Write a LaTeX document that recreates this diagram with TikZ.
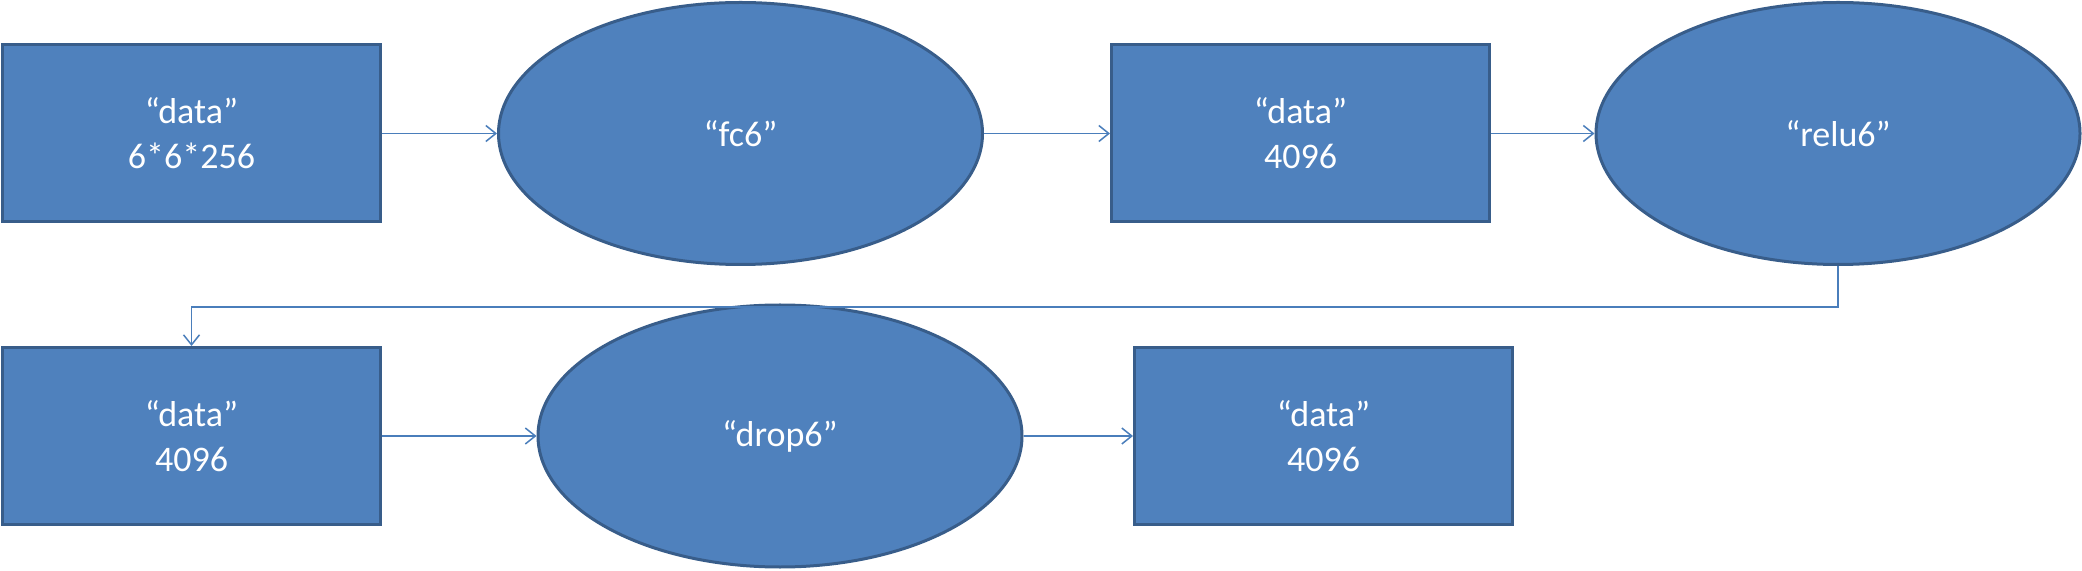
\documentclass[tikz,border=0pt]{standalone}
\usepackage{fontspec}
\setmainfont{Carlito}
\usetikzlibrary{shapes.geometric,arrows.meta}
\definecolor{fillblue}{HTML}{4F81BD}
\definecolor{edgeblue}{HTML}{385D8A}
\definecolor{linkblue}{HTML}{4A7EBB}
\begin{document}
\begin{tikzpicture}[x=0.5pt,y=-0.5pt,
  labelfont/.style={text=white,font=\fontsize{18}{22.5}\selectfont,align=center},
  box/.style={draw=edgeblue,fill=fillblue,line width=1.5pt,minimum width=189pt,minimum height=88.5pt,inner sep=0pt,labelfont},
  oval/.style={ellipse,draw=edgeblue,fill=fillblue,line width=1.5pt,minimum width=242pt,minimum height=131pt,inner sep=0pt,labelfont},
  link/.style={draw=linkblue,line width=0.75pt,-{Straight Barb[length=5pt,width=8pt]}}]
\useasboundingbox (0,0) rectangle (2082,571);
\node[box]  (d1)    at (191.5,133.5)  {“data”\\6*6*256};
\node[oval] (fc6)   at (740.5,133.5)  {“fc6”};
\node[box]  (d2)    at (1300.5,133.5) {“data”\\4096};
\node[oval] (relu6) at (1838,133.5)   {“relu6”};
\node[box]  (d3)    at (191.5,436)    {“data”\\4096};
\node[oval] (drop6) at (780,436)      {“drop6”};
\node[box]  (d4)    at (1323.5,436)   {“data”\\4096};
\coordinate (bend) at (0,307);
\draw[link] (d1.east) -- (fc6.west);
\draw[link] (fc6.east) -- (d2.west);
\draw[link] (d2.east) -- (relu6.west);
\draw[link] (relu6.south) -- (relu6.south |- bend) -| (d3.north);
\draw[link] (d3.east) -- (drop6.west);
\draw[link] (drop6.east) -- (d4.west);
\end{tikzpicture}
\end{document}
